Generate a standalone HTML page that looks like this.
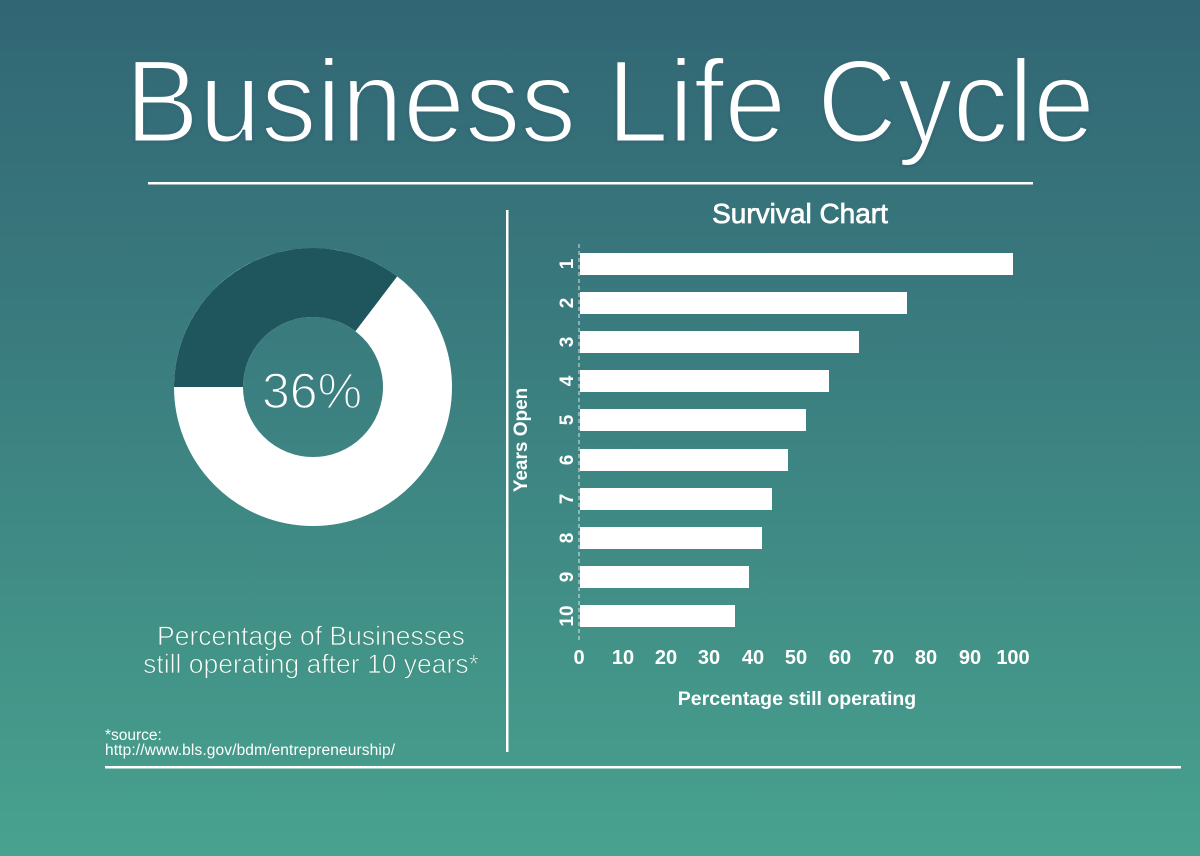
<!DOCTYPE html>
<html><head><meta charset="utf-8"><style>
html,body{margin:0;padding:0;width:1200px;height:856px;overflow:hidden}
body{background:linear-gradient(180deg,#316674 0%,#3b7f80 45%,#48a28e 100%)}
svg{display:block}
</style></head><body>
<svg width="1200" height="856" viewBox="0 0 1200 856" xmlns="http://www.w3.org/2000/svg" font-family="Liberation Sans, sans-serif">
<text x="610" y="142" text-anchor="middle" font-size="118" fill="#fff" stroke="#336a76" stroke-width="3" textLength="970" lengthAdjust="spacingAndGlyphs">Business Life Cycle</text>
<rect x="148" y="182" width="885" height="2.5" fill="#fff"/>
<rect x="506" y="210" width="2.5" height="542" fill="#fff"/>
<rect x="105" y="766" width="1076" height="2.5" fill="#fff"/>
<!-- donut -->
<circle cx="313" cy="387" r="104.5" fill="none" stroke="#fff" stroke-width="69"/>
<path d="M174 387 A139 139 0 0 1 397.2 276.4 L355.4 331.3 A70 70 0 0 0 243 387 Z" fill="#1f565e"/>
<text x="312" y="408" text-anchor="middle" font-size="50" fill="#fff" stroke="#3d7f80" stroke-width="1.5">36%</text>
<text x="311" y="645" text-anchor="middle" font-size="26.5" fill="#fff" stroke="#43917f" stroke-width="0.8">Percentage of Businesses</text>
<text x="311" y="673" text-anchor="middle" font-size="26.5" fill="#fff" stroke="#43917f" stroke-width="0.8">still operating after 10 years*</text>
<text x="105" y="740" font-size="15.5" fill="#fff">*source:</text>
<text x="105" y="755" font-size="15.5" fill="#fff" textLength="290">http://www.bls.gov/bdm/entrepreneurship/</text>
<!-- bar chart -->
<text x="800" y="223" text-anchor="middle" font-size="28" fill="#fff" stroke="#fff" stroke-width="0.7">Survival Chart</text>
<line x1="579" y1="244" x2="579" y2="640" stroke="#fff" stroke-width="1" stroke-dasharray="4,3" opacity="0.8"/>
<g fill="#fff">
<rect x="580" y="253" width="433" height="22"/>
<rect x="580" y="292" width="327" height="22"/>
<rect x="580" y="331" width="279" height="22"/>
<rect x="580" y="370" width="249" height="22"/>
<rect x="580" y="409" width="226" height="22"/>
<rect x="580" y="449" width="208" height="22"/>
<rect x="580" y="488" width="192" height="22"/>
<rect x="580" y="527" width="182" height="22"/>
<rect x="580" y="566" width="169" height="22"/>
<rect x="580" y="605" width="155" height="22"/>
</g>
<g fill="#fff" font-size="19" font-weight="bold" text-anchor="middle">
<text transform="translate(573,264) rotate(-90)">1</text>
<text transform="translate(573,303) rotate(-90)">2</text>
<text transform="translate(573,342) rotate(-90)">3</text>
<text transform="translate(573,381) rotate(-90)">4</text>
<text transform="translate(573,420) rotate(-90)">5</text>
<text transform="translate(573,460) rotate(-90)">6</text>
<text transform="translate(573,499) rotate(-90)">7</text>
<text transform="translate(573,538) rotate(-90)">8</text>
<text transform="translate(573,577) rotate(-90)">9</text>
<text transform="translate(573,616) rotate(-90)">10</text>
<text transform="translate(527,440) rotate(-90)" font-size="19">Years Open</text>
<g font-size="20">
<text x="579" y="664">0</text>
<text x="623" y="664">10</text>
<text x="666" y="664">20</text>
<text x="709" y="664">30</text>
<text x="753" y="664">40</text>
<text x="796" y="664">50</text>
<text x="840" y="664">60</text>
<text x="883" y="664">70</text>
<text x="926" y="664">80</text>
<text x="970" y="664">90</text>
<text x="1013" y="664">100</text>
</g>
<text x="797" y="705" font-size="19.5">Percentage still operating</text>
</g>
</svg>
</body></html>
